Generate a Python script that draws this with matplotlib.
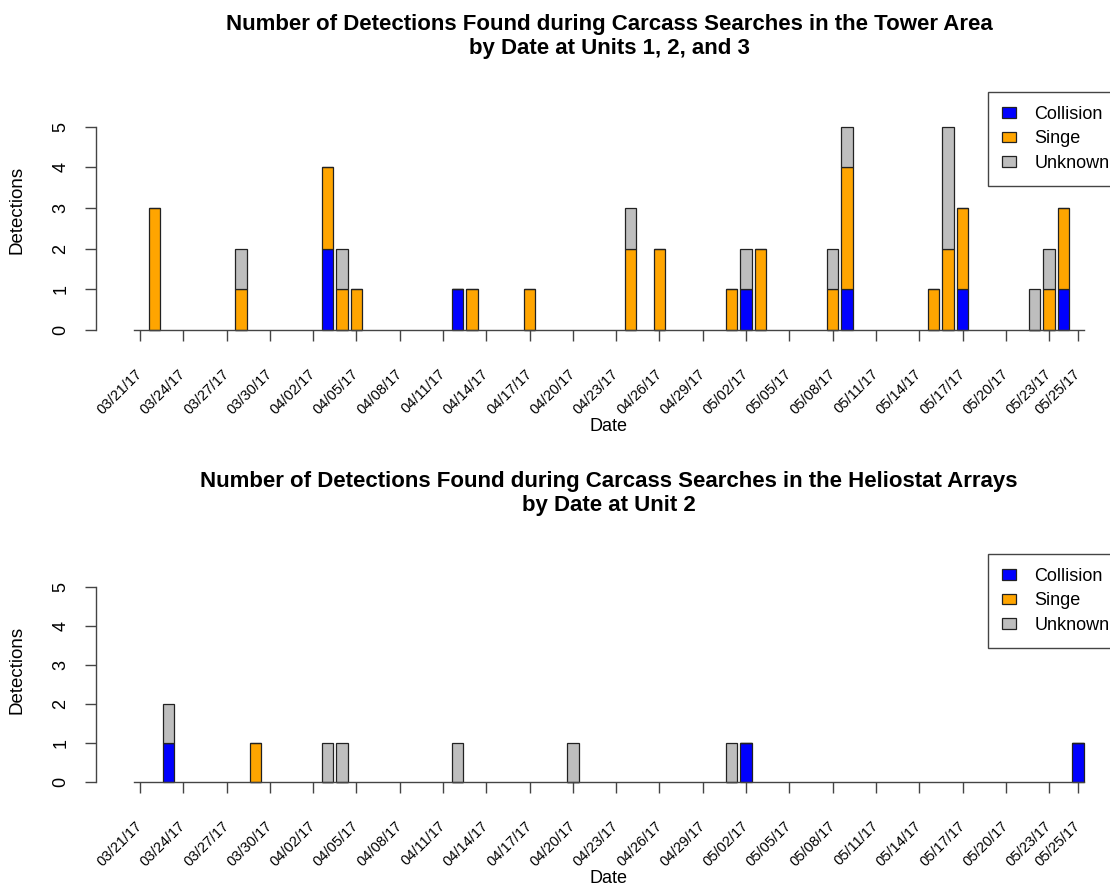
import matplotlib
matplotlib.use("Agg")
import matplotlib.pyplot as plt
import matplotlib.dates as mdates
from matplotlib.patches import Patch
import datetime as dt

plt.rcParams['font.family'] = ['Liberation Sans', 'DejaVu Sans']

# detections by date at the tower (units 1, 2 and 3)
tower_dates = ['2017-03-22', '2017-03-28', '2017-04-03', '2017-04-04', '2017-04-05',
               '2017-04-12', '2017-04-13', '2017-04-17', '2017-04-24', '2017-04-26',
               '2017-05-01', '2017-05-02', '2017-05-03', '2017-05-08', '2017-05-09',
               '2017-05-15', '2017-05-16', '2017-05-17', '2017-05-22', '2017-05-23',
               '2017-05-24']
tower_collision = [0, 0, 2, 0, 0, 1, 0, 0, 0, 0, 0, 1, 0, 0, 1, 0, 0, 1, 0, 0, 1]
tower_singe     = [3, 1, 2, 1, 1, 0, 1, 1, 2, 2, 1, 0, 2, 1, 3, 1, 2, 2, 0, 1, 2]
tower_unknown   = [0, 1, 0, 1, 0, 0, 0, 0, 1, 0, 0, 1, 0, 1, 1, 0, 3, 0, 1, 1, 0]

# detections by date in the heliostat arrays (unit 2)
helio_dates = ['2017-03-23', '2017-03-29', '2017-04-03', '2017-04-04', '2017-04-12',
               '2017-04-20', '2017-05-01', '2017-05-02', '2017-05-25']
helio_collision = [1, 0, 0, 0, 0, 0, 0, 1, 1]
helio_singe     = [0, 1, 0, 0, 0, 0, 0, 0, 0]
helio_unknown   = [1, 0, 1, 1, 1, 1, 1, 0, 0]

tick_dates = ['2017-03-21', '2017-03-24', '2017-03-27', '2017-03-30', '2017-04-02',
              '2017-04-05', '2017-04-08', '2017-04-11', '2017-04-14', '2017-04-17',
              '2017-04-20', '2017-04-23', '2017-04-26', '2017-04-29', '2017-05-02',
              '2017-05-05', '2017-05-08', '2017-05-11', '2017-05-14', '2017-05-17',
              '2017-05-20', '2017-05-23', '2017-05-25']

categories = ['Collision', 'Singe', 'Unknown']
colors = ['#0000FF', '#FFA500', '#BEBEBE']
edge = '#222222'
axcol = '#444444'

W, H = 1110, 888
fig = plt.figure(figsize=(W / 100, H / 100), dpi=100)


def to_num(ds):
    return [mdates.date2num(dt.datetime.strptime(d, '%Y-%m-%d')) for d in ds]


ticks = to_num(tick_dates)
day0 = ticks[0]
px_per_day = 14.43
mid_x = 609  # centre of the plotting region, used for title and x label


def panel(y0_px, y5_px, dates, series, title, title_base, ylab_y, legend_top):
    left_px, right_px = 96, 1100
    ax = fig.add_axes([left_px / W, 1 - y0_px / H, (right_px - left_px) / W,
                       (y0_px - y5_px) / H])
    ax.set_xlim(day0 - (140 - left_px) / px_per_day, day0 + (right_px - 140) / px_per_day)
    ax.set_ylim(0, 5)
    x = to_num(dates)
    bottom = [0] * len(x)
    for vals, c in zip(series, colors):
        ax.bar(x, vals, width=0.78, bottom=bottom, color=c, edgecolor=edge,
               linewidth=0.9, clip_on=False)
        bottom = [b + v for b, v in zip(bottom, vals)]

    for s in ['top', 'right']:
        ax.spines[s].set_visible(False)
    for s in ['left', 'bottom']:
        ax.spines[s].set_color(axcol)
        ax.spines[s].set_linewidth(1.0)
    ax.spines['bottom'].set_bounds(ticks[0] - 0.45, ticks[-1] + 0.4)
    ax.set_yticks(range(6))
    ax.set_yticklabels([str(i) for i in range(6)], rotation=90, va='center',
                       fontsize=13)
    ax.set_xticks(ticks)
    ax.set_xticklabels([d.strftime('%m/%d/%y') for d in mdates.num2date(ticks)],
                       rotation=45, ha='right', va='center', rotation_mode='anchor',
                       fontsize=10.5)
    ax.tick_params(axis='y', length=8, width=1.0, color=axcol, pad=11)
    ax.tick_params(axis='x', length=8, width=1.0, color=axcol, pad=22)

    for line, yb in zip(title, title_base):
        fig.text(mid_x / W, 1 - yb / H, line, ha='center', va='baseline',
                 fontsize=16, fontweight='bold')
    fig.text(mid_x / W, 1 - (y0_px + 96) / H, 'Date', ha='center', va='center',
             fontsize=13)
    fig.text(17 / W, 1 - ylab_y / H, 'Detections', ha='center',
             va='center', rotation=90, fontsize=13.5)

    handles = [Patch(facecolor=c, edgecolor=edge, linewidth=0.9) for c in colors]
    leg = ax.legend(handles, categories, loc='upper left',
                    bbox_to_anchor=(988 / W, 1 - legend_top / H),
                    bbox_transform=fig.transFigure, borderaxespad=0,
                    fancybox=False, framealpha=1, edgecolor=axcol, fontsize=13,
                    handlelength=0.82, handleheight=0.55, handletextpad=1.0,
                    borderpad=0.75, labelspacing=0.42)
    leg.get_frame().set_linewidth(1.0)
    return ax


panel(330, 126.7, tower_dates, [tower_collision, tower_singe, tower_unknown],
      ['Number of Detections Found during Carcass Searches in the Tower Area',
       'by Date at Units 1, 2, and 3'], (30, 54), 210, 92.3)
panel(782, 586.7, helio_dates, [helio_collision, helio_singe, helio_unknown],
      ['Number of Detections Found during Carcass Searches in the Heliostat Arrays',
       'by Date at Unit 2'], (487, 511), 670, 554.3)

fig.savefig('out.png', dpi=100)
